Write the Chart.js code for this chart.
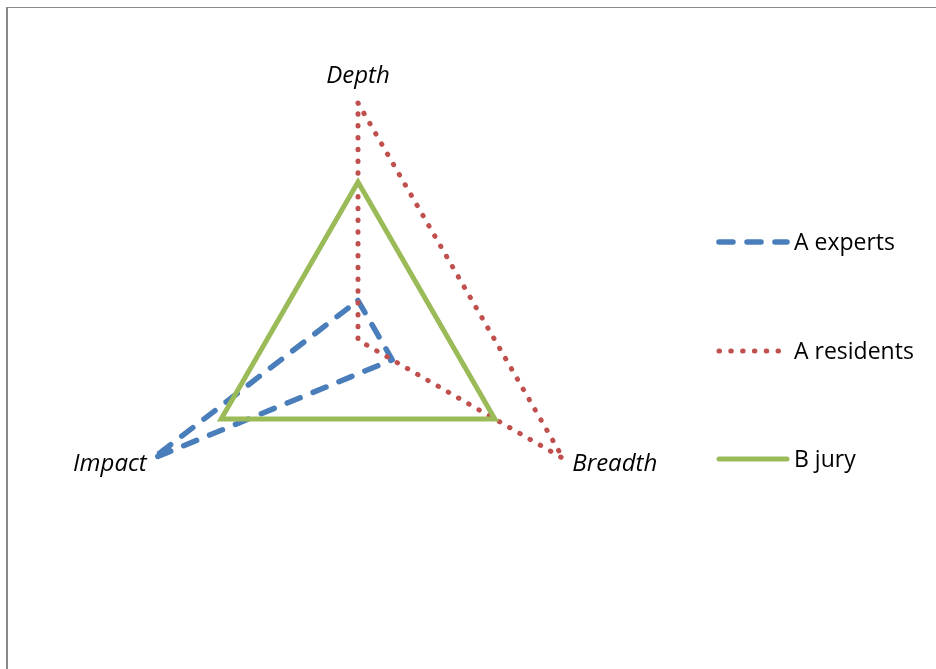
<!DOCTYPE html>
<html>
<head>
<meta charset="utf-8">
<script src="https://cdn.jsdelivr.net/npm/chart.js@4.4.1/dist/chart.umd.min.js"></script>
<style>
  html, body { margin: 0; padding: 0; background: #fff; overflow: hidden; }
  #wrap { position: relative; width: 936px; height: 669px; }
  #frame {
    position: absolute; left: 6px; top: 7px; width: 1000px; height: 800px;
    border-top: 1px solid #8a8a8a; border-left: 2px solid #8a8a8a;
    box-sizing: border-box; pointer-events: none;
  }
  canvas { position: absolute; left: 0; top: 0; }
</style>
</head>
<body>
<div id="wrap">
  <div id="frame"></div>
  <canvas id="c" width="936" height="669"></canvas>
</div>
<script>
// Axes of the radar, clockwise from the top
const axes = ['Depth', 'Breadth', 'Impact'];

// Scores per group
const expertsA = [1, 1, 6];
const residentsA = [6, 6, 0];
const juryB = [4, 4, 4];

const seriesNames = ['A experts', 'A residents', 'B jury'];
const scaleMax = 6;

const FONT = '"Open Sans", "DejaVu Sans", sans-serif';

// Axis captions placed next to each outer vertex
const axisCaptions = {
  id: 'axisCaptions',
  afterDraw(chart) {
    const r = chart.scales.r;
    const ctx = chart.ctx;
    ctx.save();
    ctx.fillStyle = '#000';
    ctx.font = 'italic 24px ' + FONT;
    ctx.textBaseline = 'alphabetic';
    axes.forEach((name, i) => {
      const p = r.getPointPositionForValue(i, scaleMax);
      if (i === 0) {
        ctx.textAlign = 'center';
        ctx.fillText(name, p.x, p.y - 20);
      } else if (i === 1) {
        ctx.textAlign = 'left';
        ctx.fillText(name, p.x + 9, p.y + 12);
      } else {
        ctx.textAlign = 'right';
        ctx.fillText(name, p.x - 6, p.y + 12);
      }
    });
    ctx.restore();
  }
};

// Legend on the right, with line samples taken from each dataset's style
const sideLegend = {
  id: 'sideLegend',
  afterDraw(chart) {
    const ctx = chart.ctx;
    const rows = [242, 351, 459];
    ctx.save();
    chart.data.datasets.forEach((ds, i) => {
      const y = rows[i];
      ctx.beginPath();
      ctx.strokeStyle = ds.borderColor;
      ctx.lineWidth = ds.borderWidth;
      ctx.lineCap = ds.borderCapStyle || 'butt';
      ctx.setLineDash(ds.borderDash || []);
      ctx.moveTo(719, y);
      ctx.lineTo(787, y);
      ctx.stroke();
      ctx.setLineDash([]);
      ctx.fillStyle = '#000';
      ctx.font = '23px ' + FONT;
      ctx.textAlign = 'left';
      ctx.textBaseline = 'alphabetic';
      ctx.fillText(ds.label, 794, y + 8);
    });
    ctx.restore();
  }
};

new Chart(document.getElementById('c'), {
  type: 'radar',
  data: {
    labels: axes,
    datasets: [
      {
        label: seriesNames[0], data: expertsA, order: 3,
        borderColor: '#4A7EBB', borderWidth: 5.5,
        borderDash: [14, 14], borderCapStyle: 'round', borderJoinStyle: 'round',
        fill: false, pointRadius: 0, pointHoverRadius: 0
      },
      {
        label: seriesNames[1], data: residentsA, order: 2,
        borderColor: '#C0504D', borderWidth: 5,
        borderDash: [0.5, 11.3], borderCapStyle: 'round', borderJoinStyle: 'round',
        fill: false, pointRadius: 0, pointHoverRadius: 0
      },
      {
        label: seriesNames[2], data: juryB, order: 1,
        borderColor: '#9BBB59', borderWidth: 5,
        borderCapStyle: 'round',
        fill: false, pointRadius: 0, pointHoverRadius: 0
      }
    ]
  },
  options: {
    responsive: false,
    animation: false,
    layout: { padding: { left: 121, top: 103, right: 341, bottom: 92 } },
    elements: { line: { tension: 0 } },
    plugins: { legend: { display: false }, tooltip: { enabled: false } },
    scales: {
      r: {
        min: 0, max: scaleMax,
        ticks: { display: false },
        grid: { display: false },
        angleLines: { display: false },
        pointLabels: { display: false }
      }
    }
  },
  plugins: [axisCaptions, sideLegend]
});
</script>
</body>
</html>
